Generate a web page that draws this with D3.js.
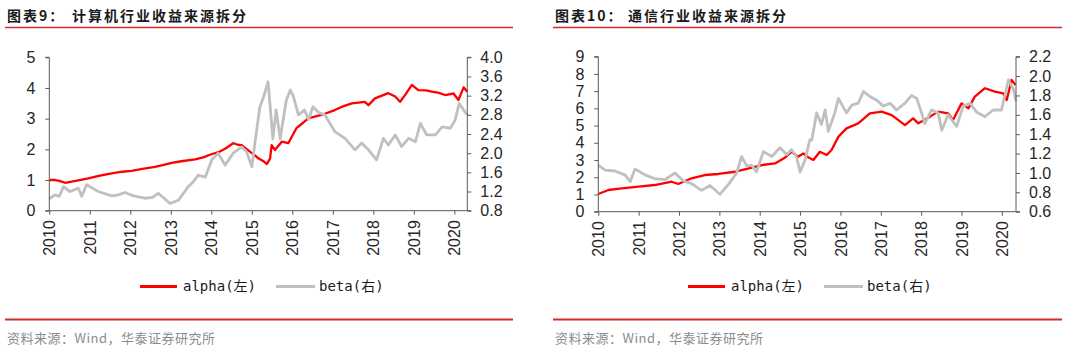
<!DOCTYPE html>
<meta charset="utf-8">
<style>
  body { margin: 0; background: #fff; }
  .axis path, .axis line { stroke: #595959; }
  .axis text { font-family: "Liberation Sans", Arial, sans-serif; font-size: 16px; fill: #262626; }
  .ttl { font-family: "Noto Sans CJK SC", sans-serif; font-size: 14px; font-weight: bold; fill: #1a1a1a; letter-spacing: 2px; }
  .src { font-family: "Noto Sans CJK SC", sans-serif; font-size: 13px; fill: #8c8c8c; letter-spacing: 0.5px; }
  .lgd { font-family: "DejaVu Sans Mono", "Noto Sans CJK SC", monospace; font-size: 14px; fill: #1a1a1a; }
</style>
<body>
<script src="https://d3js.org/d3.v7.min.js"></script>
<script>
// years on the x axis
const years = [2010, 2011, 2012, 2013, 2014, 2015, 2016, 2017, 2018, 2019, 2020];

// chart 9: computer industry
const dates9a = [2010.00, 2010.15, 2010.25, 2010.39, 2010.55, 2010.75, 2010.96, 2011.25, 2011.54, 2011.80,
  2012.03, 2012.30, 2012.61, 2012.85, 2013.02, 2013.30, 2013.60, 2013.80, 2014.00, 2014.20,
  2014.34, 2014.54, 2014.65, 2014.75, 2014.96, 2015.16, 2015.30, 2015.37, 2015.45, 2015.49,
  2015.57, 2015.74, 2015.90, 2016.10, 2016.25, 2016.39, 2016.72, 2017.05, 2017.25, 2017.47,
  2017.79, 2017.88, 2018.04, 2018.37, 2018.54, 2018.66, 2018.80, 2018.95, 2019.11, 2019.30,
  2019.44, 2019.60, 2019.77, 2019.98, 2020.10, 2020.23, 2020.32];
const alpha9 = [1.00, 1.00, 0.97, 0.91, 0.95, 1.00, 1.05, 1.14, 1.22, 1.27,
  1.30, 1.36, 1.43, 1.50, 1.56, 1.62, 1.67, 1.74, 1.84, 1.92,
  2.02, 2.20, 2.15, 2.14, 1.92, 1.71, 1.60, 1.52, 1.70, 2.14,
  1.98, 2.25, 2.20, 2.69, 2.85, 3.01, 3.12, 3.28, 3.40, 3.50,
  3.55, 3.44, 3.66, 3.83, 3.72, 3.55, 3.80, 4.10, 3.93, 3.92,
  3.88, 3.85, 3.77, 3.82, 3.61, 4.02, 3.88];
const dates9b = [2010.00, 2010.14, 2010.25, 2010.35, 2010.51, 2010.72, 2010.80, 2010.92, 2011.05, 2011.21,
  2011.54, 2011.70, 2011.87, 2012.08, 2012.36, 2012.55, 2012.69, 2012.85, 2012.98, 2013.19,
  2013.43, 2013.55, 2013.68, 2013.85, 2014.01, 2014.17, 2014.34, 2014.54, 2014.75, 2014.87,
  2015.00, 2015.12, 2015.20, 2015.30, 2015.40, 2015.45, 2015.52, 2015.60, 2015.70, 2015.85,
  2015.95, 2016.02, 2016.15, 2016.30, 2016.40, 2016.51, 2016.65, 2016.80, 2017.05, 2017.30,
  2017.55, 2017.71, 2017.88, 2018.08, 2018.25, 2018.37, 2018.54, 2018.70, 2018.87, 2019.04,
  2019.16, 2019.32, 2019.53, 2019.70, 2019.90, 2020.02, 2020.12, 2020.23, 2020.32];
const beta9 = [1.05, 1.13, 1.10, 1.30, 1.20, 1.27, 1.10, 1.34, 1.28, 1.20,
  1.11, 1.13, 1.18, 1.11, 1.06, 1.08, 1.16, 1.05, 0.95, 1.02,
  1.30, 1.40, 1.54, 1.50, 1.86, 2.00, 1.75, 2.00, 2.13, 2.03,
  1.72, 2.48, 2.97, 3.20, 3.49, 3.00, 2.30, 2.90, 2.30, 3.10,
  3.32, 3.20, 2.80, 2.90, 2.70, 2.97, 2.85, 2.80, 2.45, 2.31,
  2.07, 2.21, 2.07, 1.86, 2.31, 2.17, 2.38, 2.14, 2.31, 2.24,
  2.62, 2.38, 2.38, 2.55, 2.52, 2.69, 3.04, 2.90, 2.80];
const leftTicks9 = [0, 1, 2, 3, 4, 5];
const rightTicks9 = [0.8, 1.2, 1.6, 2.0, 2.4, 2.8, 3.2, 3.6, 4.0];

// chart 10: telecom industry
const dates10a = [2010.00, 2010.25, 2010.58, 2011.00, 2011.40, 2011.82, 2011.98, 2012.31, 2012.64, 2012.97,
  2013.39, 2013.63, 2014.05, 2014.38, 2014.60, 2014.79, 2014.95, 2015.08, 2015.20, 2015.33,
  2015.49, 2015.66, 2015.78, 2015.95, 2016.15, 2016.44, 2016.73, 2017.02, 2017.27, 2017.60,
  2017.80, 2017.93, 2018.22, 2018.42, 2018.67, 2018.79, 2019.00, 2019.17, 2019.33, 2019.58,
  2019.83, 2020.03, 2020.12, 2020.24, 2020.34];
const alpha10 = [1.03, 1.26, 1.36, 1.45, 1.55, 1.74, 1.61, 1.94, 2.13, 2.19,
  2.32, 2.46, 2.71, 2.80, 3.10, 3.48, 3.19, 3.38, 3.16, 3.00,
  3.48, 3.29, 3.58, 4.36, 4.84, 5.13, 5.71, 5.81, 5.61, 5.03,
  5.42, 5.13, 5.52, 5.81, 5.71, 5.32, 6.29, 6.00, 6.68, 7.17,
  6.97, 6.87, 6.49, 7.65, 7.36];
const dates10b = [2010.00, 2010.17, 2010.41, 2010.66, 2010.79, 2010.91, 2011.16, 2011.40, 2011.65, 2011.90,
  2012.10, 2012.31, 2012.56, 2012.77, 2013.01, 2013.22, 2013.43, 2013.55, 2013.68, 2013.80,
  2013.92, 2014.09, 2014.30, 2014.50, 2014.67, 2014.79, 2014.91, 2015.00, 2015.12, 2015.24,
  2015.29, 2015.41, 2015.53, 2015.62, 2015.70, 2015.86, 2015.95, 2016.15, 2016.28, 2016.44,
  2016.57, 2016.73, 2016.90, 2017.06, 2017.23, 2017.39, 2017.60, 2017.76, 2017.89, 2018.01,
  2018.09, 2018.26, 2018.42, 2018.51, 2018.67, 2018.88, 2019.04, 2019.21, 2019.37, 2019.58,
  2019.78, 2019.99, 2020.16, 2020.29, 2020.35];
const beta10 = [1.08, 1.03, 1.02, 0.98, 0.91, 1.04, 0.98, 0.94, 0.93, 1.00,
  0.92, 0.89, 0.82, 0.87, 0.78, 0.88, 1.00, 1.17, 1.07, 1.08,
  1.01, 1.22, 1.17, 1.26, 1.19, 1.24, 1.17, 1.01, 1.13, 1.34,
  1.34, 1.62, 1.50, 1.65, 1.43, 1.62, 1.77, 1.62, 1.70, 1.72,
  1.84, 1.79, 1.75, 1.69, 1.72, 1.65, 1.72, 1.80, 1.77, 1.62,
  1.51, 1.65, 1.62, 1.44, 1.60, 1.48, 1.69, 1.72, 1.63, 1.58,
  1.65, 1.65, 1.96, 1.86, 1.74];
const leftTicks10 = [0, 1, 2, 3, 4, 5, 6, 7, 8, 9];
const rightTicks10 = [0.6, 0.8, 1.0, 1.2, 1.4, 1.6, 1.8, 2.0, 2.2];

const svg = d3.select("body").append("svg")
    .attr("width", 1080)
    .attr("height", 352);

function panel(o) {
  const g = svg.append("g").attr("transform", "translate(" + o.dx + ",0)");

  // title and rules
  g.append("text").attr("class", "ttl").attr("x", 7).attr("y", 21).text(o.tag);
  g.append("text").attr("class", "ttl").attr("x", o.titleX).attr("y", 21).text(o.title);
  g.append("line").attr("x1", 5).attr("x2", o.ruleEnd).attr("y1", 27.5).attr("y2", 27.5)
      .attr("stroke", "#cf2e2e").attr("stroke-width", 1.6);
  g.append("line").attr("x1", 5).attr("x2", o.ruleEnd).attr("y1", 319.5).attr("y2", 319.5)
      .attr("stroke", "#cf2e2e").attr("stroke-width", 2);
  g.append("text").attr("class", "src").attr("x", 7).attr("y", 343).text("资料来源：Wind，华泰证券研究所");

  const x = d3.scaleLinear().domain([2010, o.xEnd]).range([o.left, o.right]);
  const yL = d3.scaleLinear().domain([o.leftTicks[0], o.leftTicks[o.leftTicks.length - 1]]).range([o.bottom, o.top]);
  const yR = d3.scaleLinear().domain([o.rightTicks[0], o.rightTicks[o.rightTicks.length - 1]]).range([o.bottom, o.top]);

  const lineA = d3.line().x((d, i) => x(o.datesA[i])).y(d => yL(d));
  const lineB = d3.line().x((d, i) => x(o.datesB[i])).y(d => yR(d));

  g.append("path").datum(o.alpha).attr("d", lineA)
      .attr("fill", "none").attr("stroke", "#ff0000").attr("stroke-width", 2.3)
      .attr("stroke-linejoin", "round");
  g.append("path").datum(o.beta).attr("d", lineB)
      .attr("fill", "none").attr("stroke", "#c0c0c0").attr("stroke-width", 2.8)
      .attr("stroke-linejoin", "round");

  // axes
  g.append("g").attr("class", "axis")
      .attr("transform", "translate(" + o.left + ",0)")
      .call(d3.axisLeft(yL).tickValues(o.leftTicks).tickSize(4).tickPadding(10).tickFormat(d3.format("d")))
      .call(a => a.select(".domain").attr("d", "M-4," + o.top + "H0V" + o.bottom + "H-4"));
  g.append("g").attr("class", "axis")
      .attr("transform", "translate(" + o.right + ",0)")
      .call(d3.axisRight(yR).tickValues(o.rightTicks).tickSize(4).tickPadding(9).tickFormat(d3.format(".1f")))
      .call(a => a.select(".domain").attr("d", "M4," + o.top + "H0V" + o.bottom + "H4"));
  g.append("g").attr("class", "axis")
      .attr("transform", "translate(0," + o.bottom + ")")
      .call(d3.axisBottom(x).tickValues(years).tickSize(4).tickFormat(d3.format("d")))
      .call(a => a.select(".domain").attr("d", "M" + o.left + ",0H" + o.right))
      .selectAll("text")
        .attr("transform", "rotate(-90)")
        .attr("text-anchor", "end")
        .attr("x", -9.5)
        .attr("y", 0)
        .attr("dy", "0.35em");

  // legend
  const ly = 286.5;
  g.append("line").attr("x1", o.lgX).attr("x2", o.lgX + 37).attr("y1", ly).attr("y2", ly)
      .attr("stroke", "#ff0000").attr("stroke-width", 3);
  g.append("text").attr("class", "lgd").attr("x", o.lgX + 43).attr("y", ly).attr("dy", "0.35em").text("alpha(左)");
  g.append("line").attr("x1", o.lgX + 136).attr("x2", o.lgX + 175).attr("y1", ly).attr("y2", ly)
      .attr("stroke", "#c0c0c0").attr("stroke-width", 3);
  g.append("text").attr("class", "lgd").attr("x", o.lgX + 179).attr("y", ly).attr("dy", "0.35em").text("beta(右)");
}

panel({
  dx: 0, tag: "图表9：", title: "计算机行业收益来源拆分", titleX: 72, ruleEnd: 513,
  left: 49.3, right: 467.3, top: 57.3, bottom: 210.7, xEnd: 2020.32,
  leftTicks: leftTicks9, rightTicks: rightTicks9,
  datesA: dates9a, alpha: alpha9, datesB: dates9b, beta: beta9, lgX: 140
});

panel({
  dx: 548, tag: "图表10：", title: "通信行业收益来源拆分", titleX: 80, ruleEnd: 514,
  left: 50.3, right: 468, top: 56.7, bottom: 211.7, xEnd: 2020.35,
  leftTicks: leftTicks10, rightTicks: rightTicks10,
  datesA: dates10a, alpha: alpha10, datesB: dates10b, beta: beta10, lgX: 140
});
</script>
</body>
